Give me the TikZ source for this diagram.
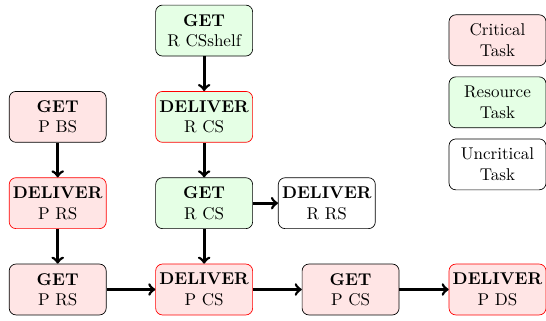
\documentclass[tikz,border=0pt]{standalone}
\usetikzlibrary{arrows}
\tikzset{task/.style = {rectangle, draw, rounded corners, align=center, minimum width=2cm,
		minimum height=1.05cm, inner sep=1pt},
	crit/.style     = {task, fill=red!10},
	res/.style      = {task, fill=green!10},
	deliv/.style    = {draw=red},
	line/.style     = {draw, ->, ultra thick}
}

\begin{document}
\begin{tikzpicture}[node distance = 1.78cm, auto]
		\useasboundingbox (0,0) rectangle (11.26,-6.6);
		\node [res] (gshelf) at (4.21,-0.63) {\textbf{GET}\\R CSshelf};
		\node [res, deliv, below of=gshelf] (drcs) {\textbf{DELIVER}\\R CS};
		\node [res, below of=drcs] (grcs) {\textbf{GET}\\R CS};
		\node [crit, deliv, below of=grcs] (dpcs) {\textbf{DELIVER}\\P CS};
		\node [task, right of=grcs, node distance=2.53cm] (drrs) {\textbf{DELIVER}\\R RS};
		\node [crit, left of=dpcs, node distance=3.02cm] (gprs) {\textbf{GET}\\P RS};
		\node [crit, deliv, above of=gprs] (dprs) {\textbf{DELIVER}\\P RS};
		\node [crit, above of=dprs] (gpbs) {\textbf{GET}\\P BS};
		\node [crit, right of=dpcs, node distance=3.02cm] (gpcs) {\textbf{GET}\\P CS};
		\node [crit, deliv, right of=gpcs, node distance=3.03cm] (dpds) {\textbf{DELIVER}\\P DS};
		\node [crit] (lcrit) at (10.26,-0.83) {Critical\\Task};
		\node [res, below of=lcrit, node distance=1.28cm] (lres) {Resource\\Task};
		\node [task, below of=lres, node distance=1.28cm] (lunc) {Uncritical\\Task};
		\path[line] (gshelf) -- (drcs);
		\path[line] (drcs) -- (grcs);
		\path[line] (grcs) -- (dpcs);
		\path[line] (grcs) -- (drrs);
		\path[line] (gpbs) -- (dprs);
		\path[line] (dprs) -- (gprs);
		\path[line] (gprs) -- (dpcs);
		\path[line] (dpcs) -- (gpcs);
		\path[line] (gpcs) -- (dpds);
	\end{tikzpicture}
\end{document}
